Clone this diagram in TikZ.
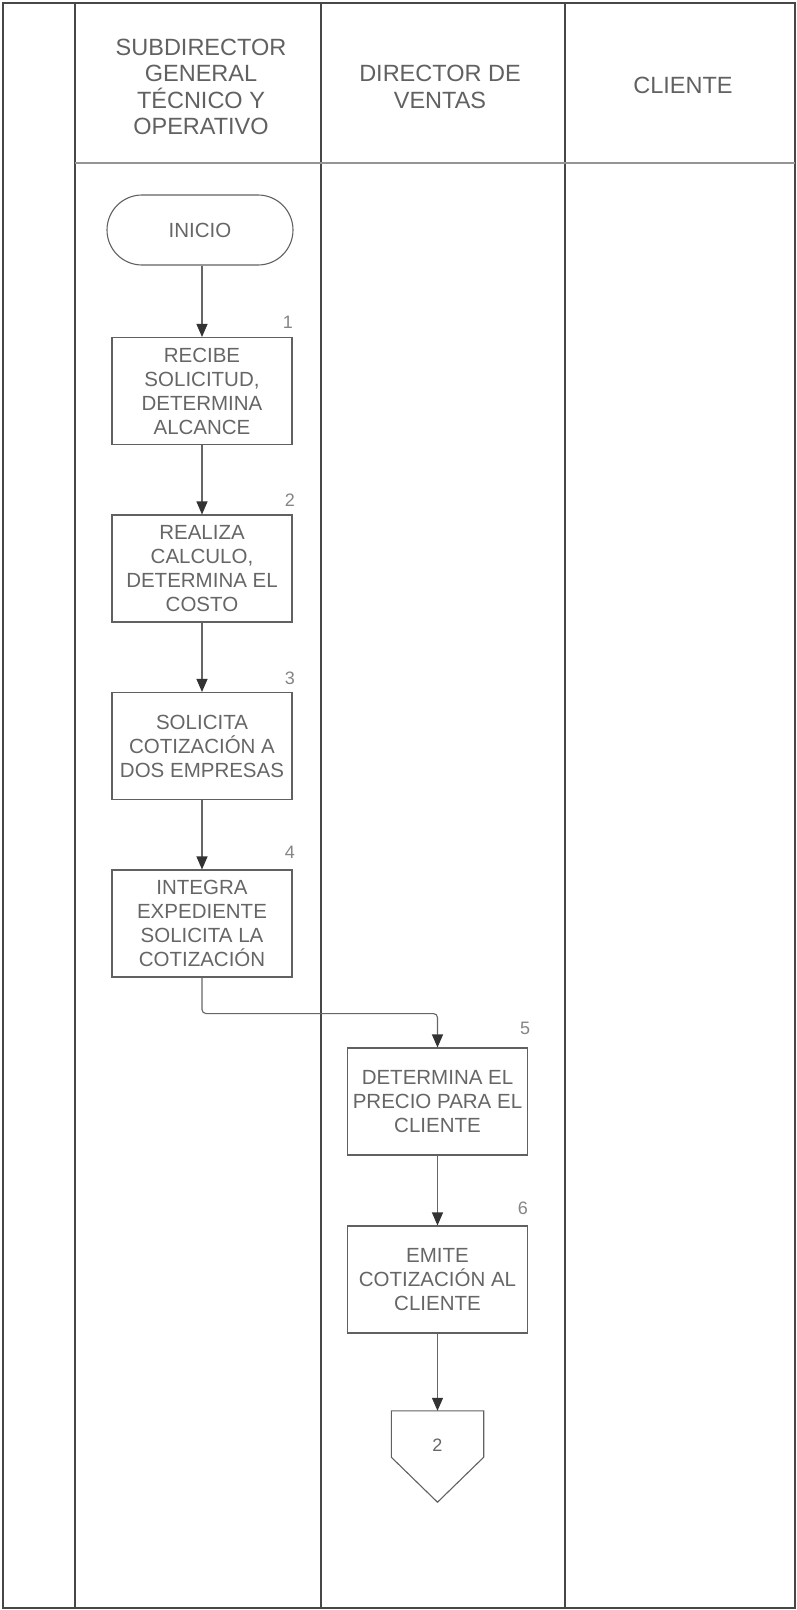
\documentclass[tikz,border=0pt]{standalone}
\usepackage{fontspec}
\setmainfont{Liberation Sans}
\usetikzlibrary{arrows.meta,shapes.misc,calc}
\begin{document}
\begin{tikzpicture}[x=1pt,y=-1pt,
 lane/.style={draw=black!72, line width=1.4pt},
 procbox/.style={draw=black!62, line width=1.1pt, minimum width=180pt, minimum height=107pt, align=center, inner sep=0pt, font=\fontsize{20.5}{24}\selectfont, text=black!60},
 term/.style={draw=black!62, line width=1.1pt, rounded rectangle, minimum width=186pt, minimum height=70pt, inner sep=0pt, font=\fontsize{20.5}{24}\selectfont, text=black!60},
 hdr/.style={align=center, font=\fontsize{23.5}{26.5}\selectfont, text=black!62},
 num/.style={font=\fontsize{18}{20}\selectfont, text=black!48},
 flow/.style={draw=black!60, line width=1.1pt, -{Triangle[length=13pt,width=11pt,color=black!80]}},
]
\useasboundingbox (0,0) rectangle (797,1610);
\fill[white] (0,0) rectangle (797,1610);
% frame and lanes
\draw[lane] (3,3) rectangle (795,1608);
\draw[lane] (75,3) -- (75,1608);
\draw[lane] (321,3) -- (321,1608);
\draw[lane] (565,3) -- (565,1608);
\draw[draw=black!42, line width=2.2pt] (75,163) -- (795,163);
% headers
\node[hdr] (h1) at (201,87) {SUBDIRECTOR\\GENERAL\\TÉCNICO Y\\OPERATIVO};
\node[hdr] (h2) at (440,87) {DIRECTOR DE\\VENTAS};
\node[hdr] (h3) at (683,85) {CLIENTE};
% nodes
\node[term] (ini) at (200,230) {INICIO};
\node[procbox] (b1) at (202,391) {RECIBE\\SOLICITUD,\\DETERMINA\\ALCANCE};
\node[procbox] (b2) at (202,568.5) {REALIZA\\CALCULO,\\DETERMINA EL\\COSTO};
\node[procbox] (b3) at (202,746) {SOLICITA\\COTIZACIÓN A\\DOS EMPRESAS};
\node[procbox] (b4) at (202,923.5) {INTEGRA\\EXPEDIENTE\\SOLICITA LA\\COTIZACIÓN};
\node[procbox] (b5) at (437.5,1101.5) {DETERMINA EL\\PRECIO PARA EL\\CLIENTE};
\node[procbox] (b6) at (437.5,1279.5) {EMITE\\COTIZACIÓN AL\\CLIENTE};
\node[minimum width=92pt, minimum height=46pt, inner sep=0pt] (off) at (437.5,1434) {};
\draw[draw=black!62, line width=1.1pt] (off.north west) -- (off.south west) -- ($(off.south)+(0,45)$) -- (off.south east) -- (off.north east) -- cycle;
\node[font=\fontsize{18}{20}\selectfont, text=black!60] (offl) at (437.5,1445) {2};
% step numbers
\node[num] (n1) at (288,322) {1};
\node[num] (n2) at (290,500) {2};
\node[num] (n3) at (290,678) {3};
\node[num] (n4) at (290,852) {4};
\node[num] (n5) at (525,1028) {5};
\node[num] (n6) at (523,1208) {6};
% connectors
\draw[flow] (ini.south -| b1.north) -- (b1.north);
\draw[flow] (b1) -- (b2);
\draw[flow] (b2) -- (b3);
\draw[flow] (b3) -- (b4);
\draw[flow, rounded corners=4pt] (b4.south) -- ++(0,36) -| (b5.north);
\draw[flow] (b5) -- (b6);
\draw[flow] (b6) -- (off.north);
\end{tikzpicture}
\end{document}
